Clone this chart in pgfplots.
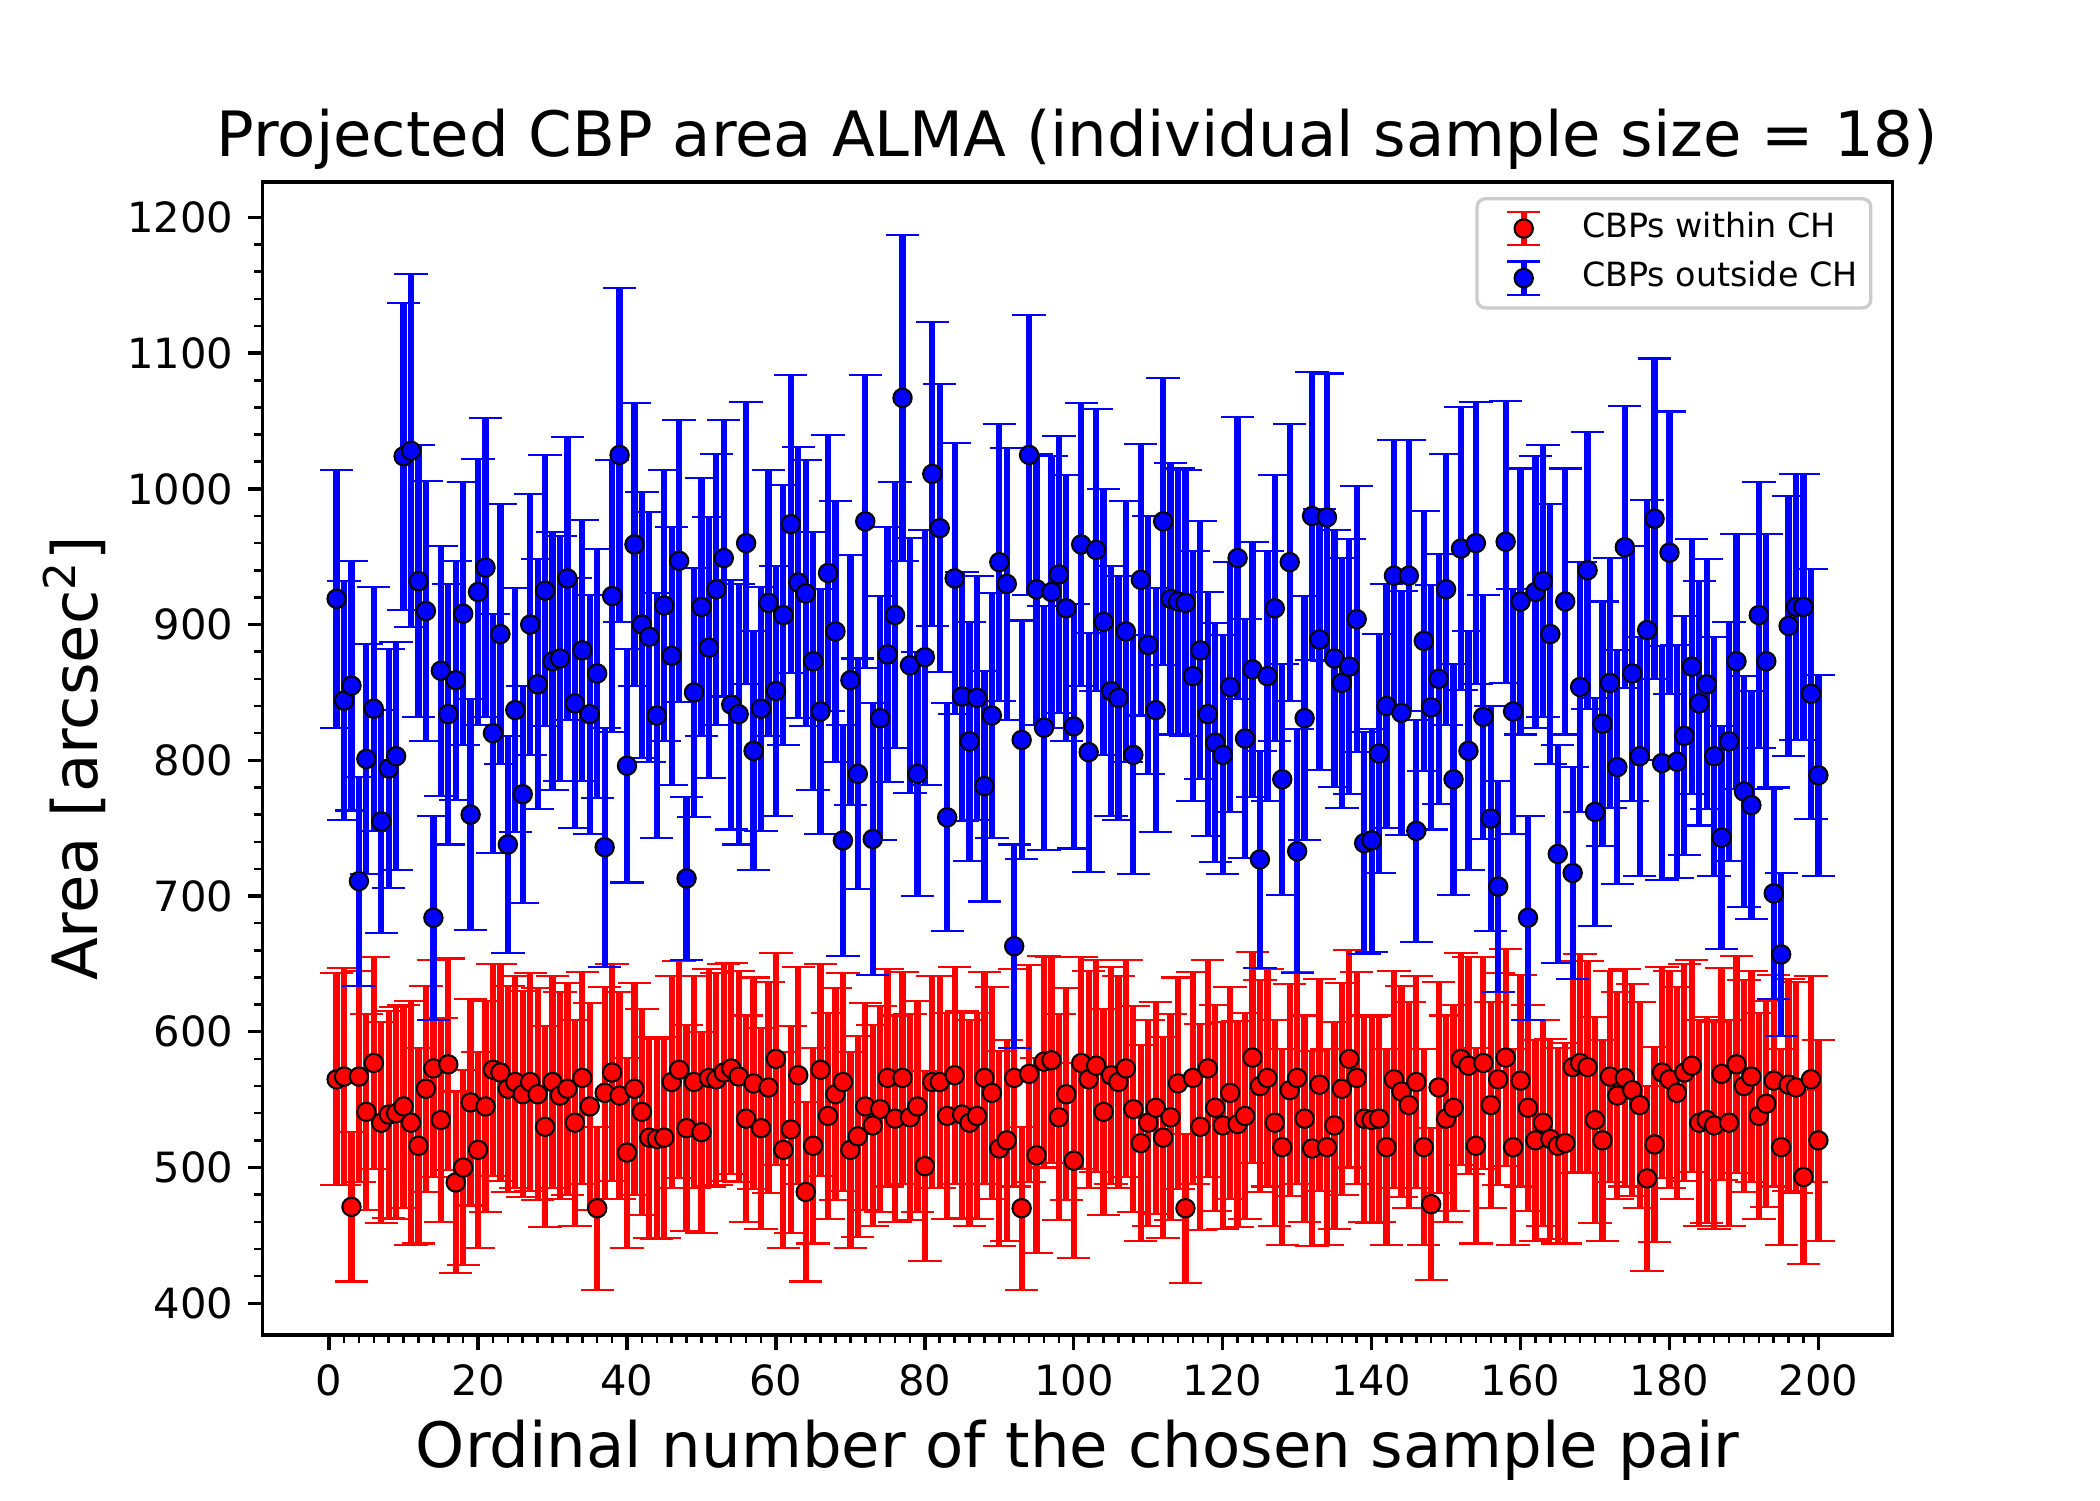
\documentclass[border=0pt]{standalone}
\usepackage{pgfplots}
\pgfplotsset{compat=1.18}
\usepackage{pgfplotstable}
\usepackage{fontspec}
\setmainfont{DejaVu Sans}
\pgfplotstableread{
x y e
1 919 95
2 844 88
3 855 92
4 711 77
5 801 85
6 838 90
7 755 82
8 794 88
9 803 84
10 1024 113
11 1028 130
12 932 100
13 910 96
14 684 75
15 866 92
16 834 96
17 859 88
18 908 97
19 760 85
20 924 98
21 942 110
22 820 88
23 893 96
24 738 80
25 837 90
26 775 80
27 900 96
28 856 92
29 925 100
30 873 95
31 875 90
32 934 104
33 842 92
34 881 96
35 834 88
36 864 92
37 736 88
38 921 100
39 1025 123
40 796 86
41 959 104
42 900 98
43 891 92
44 833 90
45 914 100
46 877 95
47 947 104
48 713 60
49 850 92
50 913 95
51 883 96
52 926 100
53 949 102
54 841 92
55 834 96
56 960 104
57 807 88
58 838 90
59 916 98
60 851 92
61 907 96
62 974 110
63 931 100
64 923 98
65 873 95
66 836 90
67 938 102
68 895 96
69 741 85
70 859 92
71 790 85
72 976 108
73 742 100
74 831 90
75 878 94
76 907 98
77 1067 120
78 870 94
79 790 90
80 876 94
81 1011 112
82 971 106
83 758 84
84 934 100
85 847 92
86 814 88
87 846 90
88 781 85
89 833 90
90 946 102
91 930 100
92 663 75
93 815 88
94 1025 103
95 926 100
96 824 90
97 924 100
98 937 102
99 912 98
100 825 90
101 959 104
102 806 88
103 955 104
104 902 98
105 851 92
106 846 90
107 895 96
108 804 88
109 933 100
110 885 95
111 837 90
112 976 106
113 919 100
114 917 98
115 916 98
116 862 92
117 881 95
118 834 90
119 813 88
120 804 88
121 854 92
122 949 104
123 816 88
124 867 94
125 727 80
126 862 92
127 912 98
128 786 85
129 946 102
130 733 90
131 831 90
132 980 106
133 889 96
134 979 106
135 875 95
136 857 92
137 869 94
138 904 98
139 739 82
140 741 82
141 805 88
142 840 90
143 936 100
144 835 90
145 936 100
146 748 82
147 888 96
148 839 90
149 860 92
150 926 100
151 786 85
152 956 104
153 807 88
154 960 104
155 832 90
156 757 83
157 707 78
158 961 104
159 836 90
160 917 98
161 684 75
162 924 100
163 932 100
164 893 96
165 731 80
166 917 98
167 717 78
168 854 92
169 940 102
170 762 84
171 827 90
172 857 92
173 795 86
174 957 104
175 864 94
176 803 88
177 896 96
178 978 118
179 798 86
180 953 104
181 799 86
182 818 88
183 869 94
184 842 90
185 856 92
186 803 88
187 743 82
188 814 88
189 873 94
190 777 85
191 767 84
192 907 98
193 873 94
194 702 78
195 657 60
196 899 96
197 913 98
198 913 98
199 849 92
200 789 74
}\outside
\pgfplotstableread{
x y e
1 565 78
2 567 80
3 471 55
4 567 78
5 541 72
6 577 78
7 533 74
8 539 76
9 540 78
10 545 75
11 533 90
12 516 72
13 558 76
14 573 80
15 535 75
16 576 78
17 489 67
18 500 72
19 548 76
20 513 72
21 545 78
22 572 78
23 570 80
24 558 76
25 563 78
26 554 76
27 563 80
28 554 78
29 530 74
30 563 78
31 553 76
32 558 78
33 533 76
34 566 78
35 545 76
36 470 60
37 555 78
38 570 80
39 553 76
40 511 70
41 558 78
42 541 76
43 522 74
44 521 74
45 522 74
46 563 78
47 572 80
48 529 76
49 563 78
50 526 74
51 566 80
52 565 78
53 570 80
54 573 78
55 567 78
56 536 76
57 562 78
58 529 74
59 559 78
60 580 78
61 513 72
62 528 76
63 568 80
64 482 66
65 516 72
66 572 78
67 538 76
68 554 78
69 563 80
70 513 72
71 523 74
72 545 76
73 531 74
74 543 76
75 566 80
76 536 76
77 566 78
78 537 76
79 545 78
80 501 70
81 563 78
82 563 78
83 538 76
84 568 80
85 539 76
86 533 76
87 538 76
88 566 78
89 555 78
90 514 72
91 520 74
92 566 80
93 470 60
94 569 80
95 509 72
96 578 78
97 579 76
98 537 76
99 554 78
100 505 72
101 577 78
102 565 80
103 575 78
104 541 76
105 568 80
106 563 78
107 573 80
108 543 76
109 518 72
110 533 76
111 544 78
112 522 74
113 537 76
114 562 78
115 470 55
116 566 78
117 530 76
118 573 80
119 544 76
120 531 76
121 555 78
122 532 76
123 538 76
124 581 78
125 560 78
126 566 80
127 533 76
128 515 72
129 557 78
130 566 78
131 536 76
132 514 72
133 561 78
134 515 72
135 531 76
136 558 78
137 580 80
138 566 78
139 536 76
140 535 76
141 536 76
142 515 72
143 565 80
144 556 78
145 546 76
146 563 78
147 515 72
148 473 56
149 559 78
150 536 76
151 544 76
152 580 78
153 575 80
154 516 72
155 577 78
156 546 76
157 565 78
158 581 80
159 515 72
160 564 78
161 544 76
162 520 74
163 533 76
164 521 74
165 516 72
166 518 74
167 574 78
168 577 80
169 574 78
170 535 76
171 520 74
172 567 78
173 553 76
174 566 80
175 557 78
176 546 76
177 492 68
178 517 72
179 570 78
180 565 80
181 555 78
182 570 80
183 575 78
184 533 76
185 535 76
186 531 76
187 569 78
188 533 76
189 576 80
190 560 78
191 567 78
192 538 76
193 547 76
194 564 78
195 515 72
196 561 78
197 559 78
198 493 64
199 565 76
200 520 74
}\within
\pgfplotsset{
  redleg/.style={legend image code/.code={
    \path[draw=none,fill=none] (0pt,-4.4pt) rectangle (16pt,4.4pt);
    \draw[red,line width=1.5pt,rounded corners=0pt] (8pt,-4pt) -- (8pt,4pt);
    \draw[red,line width=0.5pt,rounded corners=0pt] (4pt,-4pt) -- (12pt,-4pt);
    \draw[red,line width=0.5pt,rounded corners=0pt] (4pt,4pt) -- (12pt,4pt);
    \filldraw[fill=red,draw=black,line width=0.5pt] (8pt,0pt) circle (2.2pt);
  }},
  blueleg/.style={legend image code/.code={
    \path[draw=none,fill=none] (0pt,-4.4pt) rectangle (16pt,4.4pt);
    \draw[blue,line width=1.5pt,rounded corners=0pt] (8pt,-4pt) -- (8pt,4pt);
    \draw[blue,line width=0.5pt,rounded corners=0pt] (4pt,-4pt) -- (12pt,-4pt);
    \draw[blue,line width=0.5pt,rounded corners=0pt] (4pt,4pt) -- (12pt,4pt);
    \filldraw[fill=blue,draw=black,line width=0.5pt] (8pt,0pt) circle (2.2pt);
  }},
}
\begin{document}
\begin{tikzpicture}
\path[use as bounding box] (0,0) rectangle (504pt,360pt);
\begin{axis}[
  at={(63pt,39.6pt)}, anchor=south west,
  scale only axis, width=391.2pt, height=276.7pt,
  xmin=-8.95, xmax=209.95, ymin=376.6, ymax=1226,
  axis line style={line width=0.8pt},
  tick align=outside, tick pos=left,
  major tick length=3.5pt, minor tick length=2pt,
  every tick/.style={black, line width=0.8pt},
  every minor tick/.style={black, line width=0.6pt},
  xtick={0,20,...,200}, ytick={400,500,...,1200},
  minor x tick num=9, minor y tick num=4,
  /pgf/number format/assume math mode=true,
  /pgf/number format/set thousands separator={},
  ticklabel style={font=\fontsize{10}{12}\selectfont},
  xlabel={Ordinal number of the chosen sample pair},
  ylabel={Area [arcsec\textsuperscript{2}]},
  label style={font=\fontsize{15}{18}\selectfont},
  xlabel style={at={(0.5,-0.1153)}, anchor=base},
  ylabel style={at={(-0.1012,0.5)}, anchor=base},
  title={Projected CBP area ALMA (individual sample size = 18)},
  title style={font=\fontsize{15}{18}\selectfont, at={(0.5,1.02255)}, anchor=base, yshift=-6pt},
  legend style={at={(1,1)}, anchor=north east, xshift=-4.8pt, yshift=-3.6pt,
    draw=black!20, line width=0.8pt, rounded corners=2pt, fill=white,
    font=\fontsize{8}{10}\selectfont, row sep=2.4pt, column sep=6pt,
    inner xsep=3.2pt, inner ysep=2.4pt,
    nodes={inner sep=0pt, text height=6.2pt, text depth=2pt}},
  legend cell align=left,
]
\addplot[forget plot, only marks, mark=*, mark size=2.2pt,
  mark options={fill=red, draw=black, line width=0.5pt},
  error bars/.cd, y dir=both, y explicit,
  error bar style={red, line width=1.5pt},
  error mark options={red, line width=0.5pt, mark size=4pt, rotate=90}]
  table[x=x, y=y, y error=e] {\within};
\addplot[forget plot, only marks, mark=*, mark size=2.2pt,
  mark options={fill=blue, draw=black, line width=0.5pt},
  error bars/.cd, y dir=both, y explicit,
  error bar style={blue, line width=1.5pt},
  error mark options={blue, line width=0.5pt, mark size=4pt, rotate=90}]
  table[x=x, y=y, y error=e] {\outside};
\addlegendimage{redleg}\addlegendentry{CBPs within CH}
\addlegendimage{blueleg}\addlegendentry{CBPs outside CH}
\end{axis}
\end{tikzpicture}
\end{document}
